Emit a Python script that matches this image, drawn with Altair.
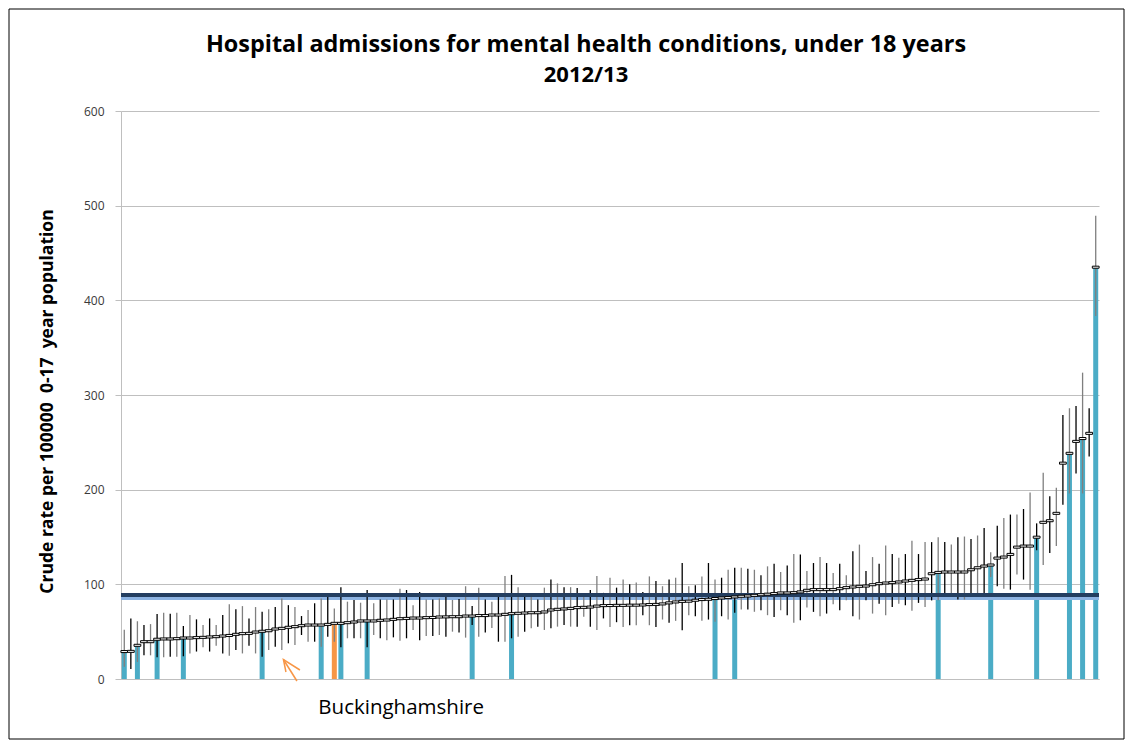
import altair as alt
import pandas as pd

# ---- data (sorted local authorities, 2012/13) ----
values = [
    29.0, 29.2, 35.6, 39.4, 39.4, 42.0, 42.3, 42.3, 42.6, 43.3,
    43.3, 43.7, 44.0, 44.4, 44.7, 45.4, 46.0, 47.2, 47.9, 48.2,
    49.6, 50.4, 51.0, 52.8, 53.5, 54.6, 55.3, 56.3, 57.0, 57.0,
    57.0, 57.7, 58.8, 58.8, 59.5, 60.2, 61.3, 61.3, 61.3, 62.0,
    62.3, 63.0, 63.7, 64.0, 64.4, 64.4, 64.8, 65.0, 65.5, 65.6,
    65.8, 65.8, 66.5, 66.5, 67.0, 67.0, 67.6, 67.6, 68.3, 69.0,
    69.4, 69.7, 70.0, 70.0, 70.8, 72.9, 73.6, 74.0, 74.6, 75.4,
    75.7, 76.0, 77.0, 77.5, 77.6, 77.8, 77.8, 78.0, 78.0, 78.2,
    78.6, 78.8, 79.3, 80.4, 81.4, 82.0, 82.2, 83.2, 83.9, 84.2,
    85.0, 85.6, 86.0, 86.7, 87.4, 87.7, 88.4, 89.0, 89.6, 90.2,
    90.9, 90.9, 91.2, 92.0, 93.7, 94.4, 94.4, 94.4, 94.4, 95.4,
    96.5, 97.2, 97.9, 98.2, 99.6, 100.7, 101.4, 101.8, 102.5, 103.5,
    104.2, 105.0, 105.6, 111.2, 112.6, 113.0, 113.0, 113.0, 113.0, 115.4,
    117.5, 119.3, 120.4, 127.7, 128.8, 131.6, 139.3, 140.4, 140.4, 149.8,
    165.5, 167.2, 175.0, 228.0, 238.4, 251.0, 254.0, 259.5, 435.0,
]
lower = [
    13, 10.5, 18, 25, 25, 23, 23, 23.6, 23.6, 24,
    27, 29, 33.5, 29, 35, 27, 24.6, 30.6, 27, 35,
    27, 23.6, 30.6, 34, 30.6, 37.7, 36, 46.5, 39.4, 39.4,
    34, 44.7, 39.4, 33.5, 43, 43, 43, 33.5, 46.5, 43,
    41, 44, 40.5, 43, 51.8, 41, 45.4, 45.4, 46.5, 44.7,
    50, 49, 43.7, 57, 44.7, 49, 54, 39.4, 39.4, 43,
    44.7, 50, 53.5, 55.3, 51.8, 53.5, 55.3, 57, 55.3, 55.3,
    65.8, 55.3, 51.8, 64, 55, 60, 55, 56.8, 56.8, 67.4,
    56.8, 55, 62.8, 59.3, 61.4, 51.6, 67.4, 66.3, 61.4, 62.8,
    60.4, 66.3, 62.8, 70, 73.3, 73.3, 71, 72.6, 67.4, 65.6,
    72.6, 67.4, 59.3, 62, 75.4, 70.9, 66.3, 69.1, 79, 72.6,
    83.2, 66.3, 62.8, 83.2, 69.1, 79.6, 67.4, 76, 79.6, 77.9,
    72, 80.4, 76, 83, 83.2, 86.7, 88.4, 83.9, 83.9, 88.4,
    90.2, 90.2, 107.7, 98, 95.4, 94.4, 110.5, 105, 94.4, 136,
    120.4, 133, 140.6, 184, 196, 217, 196, 235, 383.4,
]
upper = [
    52, 64, 61, 57, 58, 68.7, 70, 69, 70, 56,
    67.6, 63, 57, 64, 57, 67.6, 79, 73.6, 77, 64,
    76, 71, 73.6, 76, 85, 78, 76, 66.5, 73, 80,
    85, 90.5, 74.6, 96.8, 81.7, 83.5, 80.6, 94, 80, 84,
    84, 84, 95.4, 94, 78, 92, 84, 84, 85, 90.5,
    83.5, 84.5, 98, 77, 96.5, 84, 81.7, 90, 108.8, 110,
    97, 88.7, 88.7, 84, 96.5, 105, 101, 97, 97, 96,
    88.7, 94, 108.8, 91, 107, 96.5, 105, 100, 102, 92,
    108.4, 103.5, 98, 105, 107, 122.5, 98, 99, 108.4, 122.5,
    105, 107, 115.4, 117.5, 117.5, 116.5, 115.4, 109.5, 119, 121.8,
    113, 120, 132, 131.6, 114, 122.5, 128.8, 122.5, 112, 121.8,
    109.5, 135, 142, 114, 128.8, 121.8, 141, 132, 128, 132,
    146, 132, 144.6, 144.6, 149.8, 144.6, 142, 149.8, 150.5, 148,
    151.6, 159.6, 134, 162, 170, 173.7, 173.7, 179.6, 197, 164.4,
    218, 193, 202, 279, 286, 288.4, 323.6, 286, 489.4,
]
teal_idx = [0, 2, 5, 9, 21, 30, 33, 37, 53, 59, 90, 93, 124, 132, 139, 144, 146, 148]
orange_idx = [32]
england_avg = 88.4
y_ticks = [0, 100, 200, 300, 400, 500, 600]
title_lines = ["Hospital admissions for mental health conditions, under 18 years", "2012/13"]
y_title = "Crude rate per 100000\u00a0\u00a00-17\u00a0\u00a0year population"
label_text = "Buckinghamshire"
# annotation arrow in data units (index, rate)
arrow_x = [26.76, 24.25, 24.63, 24.25, 26.3]
arrow_y = [9.5, 20.6, 7.4, 20.6, -2.1]
arrow_seg = ["head", "head", "head", "shaft", "shaft"]

N = len(values)
df = pd.DataFrame({"idx": list(range(N)), "value": values, "lo": lower, "hi": upper})
df["kind"] = ["orange" if i in orange_idx else ("teal" if i in teal_idx else "none") for i in range(N)]
df["tone"] = ["odd" if i % 2 else "even" for i in range(N)]

arrow_df = pd.DataFrame({"ax": arrow_x, "ay": arrow_y, "seg": arrow_seg, "o": list(range(len(arrow_x)))})

W, H = 978, 568
FONT = "Open Sans"
GRID = "#BFBFBF"

xs = alt.Scale(domain=[-0.5, N - 0.5], nice=False, zero=False, padding=0)
ys = alt.Scale(domain=[0, 600], nice=False)
xax = alt.Axis(labels=False, ticks=False, grid=False, domain=True, domainColor=GRID, title=None)
yax = alt.Axis(values=y_ticks, grid=True, gridColor=GRID, domainColor=GRID, tickColor=GRID,
               tickSize=6, labelPadding=11, labelFont=FONT, labelFontSize=12, labelColor="#3A3A3A",
               title=y_title, titleFont=FONT, titleFontSize=17.5, titleFontWeight="bold",
               titleColor="#000000", titleX=-74, titleY=H / 2 + 6, titleAngle=270,
               titleAlign="center", titleBaseline="middle")

base = alt.Chart(df)

border = alt.Chart(pd.DataFrame({"a": [0]})).mark_rect(
    fillOpacity=0, stroke="#000000", strokeWidth=1
).encode(x=alt.value(-112), x2=alt.value(W + 25), y=alt.value(-102), y2=alt.value(H + 60))

bars = base.transform_filter("datum.kind != 'none'").mark_bar(size=5).encode(
    x=alt.X("idx:Q", scale=xs, axis=xax),
    y=alt.Y("value:Q", scale=ys, axis=yax),
    color=alt.Color("kind:N", scale=alt.Scale(domain=["teal", "orange"], range=["#4BACC6", "#F79646"]), legend=None),
)

avg_light = base.mark_rule(color="#8DB3E2", strokeWidth=3, yOffset=2.7).encode(y=alt.datum(england_avg))

errs = base.mark_rule(strokeWidth=1.3).encode(
    x=alt.X("idx:Q", scale=xs, axis=xax),
    y=alt.Y("lo:Q", scale=ys, axis=yax),
    y2="hi:Q",
    stroke=alt.Stroke("tone:N", scale=alt.Scale(domain=["odd", "even"], range=["#000000", "#7F7F7F"]), legend=None),
)

avg_dark = base.mark_rule(color="#243F60", strokeWidth=3).encode(y=alt.datum(england_avg))

markers = base.mark_point(
    shape="M-1,-0.3L1,-0.3L1,0.3L-1,0.3Z", size=46, fill="#FFFFFF", stroke="#000000",
    strokeWidth=1, opacity=1, fillOpacity=1,
).encode(
    x=alt.X("idx:Q", scale=xs, axis=xax),
    y=alt.Y("value:Q", scale=ys, axis=yax),
)

arrow = alt.Chart(arrow_df).mark_line(color="#F79646", strokeWidth=1.5).encode(
    x=alt.X("ax:Q", scale=xs, axis=xax),
    y=alt.Y("ay:Q", scale=ys, axis=yax),
    detail="seg:N",
    order="o:Q",
)

bucks = alt.Chart(pd.DataFrame({"idx": orange_idx, "t": [label_text]})).mark_text(
    align="left", baseline="middle", dx=-16, font=FONT, fontSize=20.5, color="#000000"
).encode(x=alt.X("idx:Q", scale=xs, axis=xax), y=alt.value(H + 29), text="t:N")

t1 = alt.Chart(pd.DataFrame({"t": [title_lines[0]]})).mark_text(
    align="center", baseline="middle", font=FONT, fontSize=23.4, fontWeight="bold", color="#000000"
).encode(x=alt.value(W / 2 - 24), y=alt.value(-66), text="t:N")
t2 = alt.Chart(pd.DataFrame({"t": [title_lines[1]]})).mark_text(
    align="center", baseline="middle", font=FONT, fontSize=22, fontWeight="bold", color="#000000"
).encode(x=alt.value(W / 2 - 24), y=alt.value(-36), text="t:N")

chart = alt.layer(border, bars, avg_light, errs, avg_dark, markers, arrow, bucks, t1, t2).resolve_scale(
    color="independent", stroke="independent"
).properties(
    width=W, height=H,
    autosize=alt.AutoSizeParams(type="none"),
    padding={"left": 113, "top": 103, "right": 26, "bottom": 61},
    background="#FFFFFF",
).configure_view(strokeWidth=0)

chart.save("out.html", embed_options={"renderer": "svg", "actions": False})
